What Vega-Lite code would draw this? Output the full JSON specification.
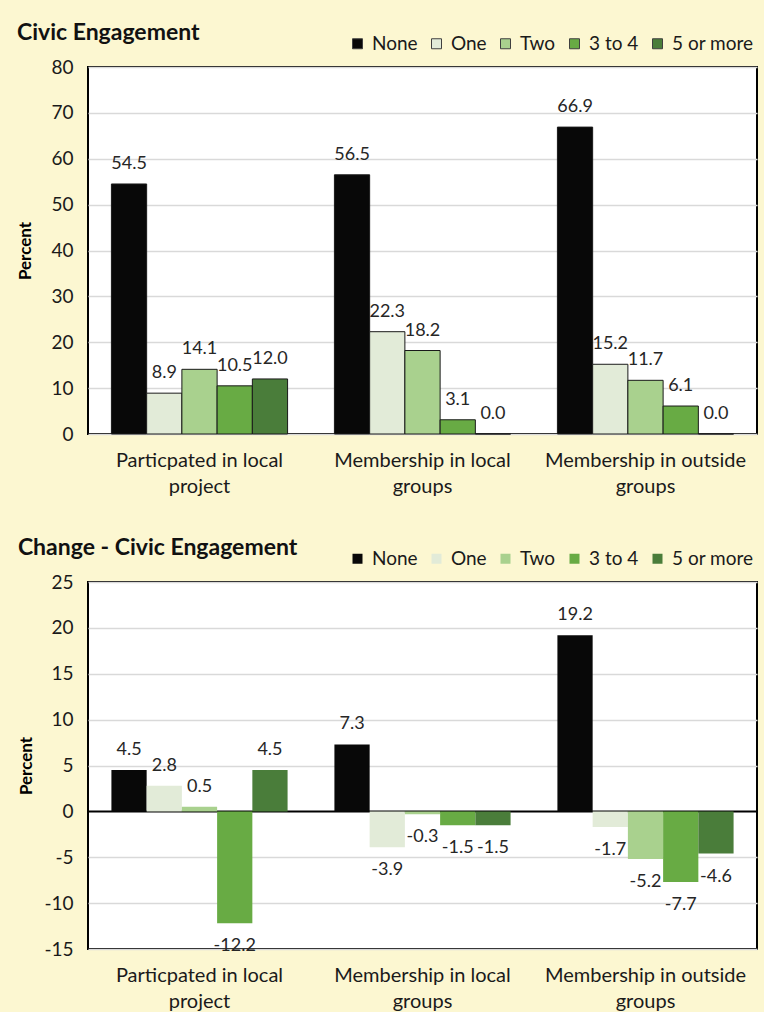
{
  "$schema": "https://vega.github.io/schema/vega-lite/v6.json",
  "background": "#fcf7d1",
  "padding": {"left": 15, "top": 21, "right": 8, "bottom": 0},
  "spacing": 39,
  "config": {
    "font": "Lato",
    "locale": {
      "number": {"decimal": ".", "thousands": ",", "grouping": [3], "currency": ["$", ""], "minus": "-"}
    },
    "view": {"fill": "white", "stroke": "black", "strokeWidth": 2},
    "axis": {
      "labelFont": "Lato",
      "labelFontSize": 19,
      "labelColor": "#1a1a1a",
      "titleFont": "Lato",
      "titleColor": "#000000",
      "gridColor": "#d9d9d9",
      "gridWidth": 1.5,
      "domain": false,
      "ticks": false
    },
    "legend": {
      "orient": "none",
      "direction": "horizontal",
      "legendX": 260,
      "legendY": -33,
      "title": null,
      "symbolType": "square",
      "symbolSize": 100,
      "symbolOpacity": 1,
      "labelFont": "Lato",
      "labelFontSize": 19,
      "labelColor": "#1a1a1a",
      "labelOffset": 5,
      "columnPadding": 9
    },
    "title": {
      "anchor": "start",
      "frame": "bounds",
      "font": "Lato",
      "fontSize": 23,
      "fontWeight": "bold",
      "color": "#111111",
      "offset": 10,
      "dy": 21
    },
    "text": {"font": "Lato", "fontSize": 18, "color": "#262626"}
  },
  "datasets": {
    "levels": [
      {"activity": "Particpated in local project", "count": "None", "pct": 54.5},
      {"activity": "Particpated in local project", "count": "One", "pct": 8.9},
      {"activity": "Particpated in local project", "count": "Two", "pct": 14.1},
      {"activity": "Particpated in local project", "count": "3 to 4", "pct": 10.5},
      {"activity": "Particpated in local project", "count": "5 or more", "pct": 12.0},
      {"activity": "Membership in local groups", "count": "None", "pct": 56.5},
      {"activity": "Membership in local groups", "count": "One", "pct": 22.3},
      {"activity": "Membership in local groups", "count": "Two", "pct": 18.2},
      {"activity": "Membership in local groups", "count": "3 to 4", "pct": 3.1},
      {"activity": "Membership in local groups", "count": "5 or more", "pct": 0.0},
      {"activity": "Membership in outside groups", "count": "None", "pct": 66.9},
      {"activity": "Membership in outside groups", "count": "One", "pct": 15.2},
      {"activity": "Membership in outside groups", "count": "Two", "pct": 11.7},
      {"activity": "Membership in outside groups", "count": "3 to 4", "pct": 6.1},
      {"activity": "Membership in outside groups", "count": "5 or more", "pct": 0.0}
    ],
    "change": [
      {"activity": "Particpated in local project", "count": "None", "chg": 4.5},
      {"activity": "Particpated in local project", "count": "One", "chg": 2.8},
      {"activity": "Particpated in local project", "count": "Two", "chg": 0.5},
      {"activity": "Particpated in local project", "count": "3 to 4", "chg": -12.2},
      {"activity": "Particpated in local project", "count": "5 or more", "chg": 4.5},
      {"activity": "Membership in local groups", "count": "None", "chg": 7.3},
      {"activity": "Membership in local groups", "count": "One", "chg": -3.9},
      {"activity": "Membership in local groups", "count": "Two", "chg": -0.3},
      {"activity": "Membership in local groups", "count": "3 to 4", "chg": -1.5},
      {"activity": "Membership in local groups", "count": "5 or more", "chg": -1.5},
      {"activity": "Membership in outside groups", "count": "None", "chg": 19.2},
      {"activity": "Membership in outside groups", "count": "One", "chg": -1.7},
      {"activity": "Membership in outside groups", "count": "Two", "chg": -5.2},
      {"activity": "Membership in outside groups", "count": "3 to 4", "chg": -7.7},
      {"activity": "Membership in outside groups", "count": "5 or more", "chg": -4.6}
    ]
  },
  "vconcat": [
    {
      "data": {"name": "levels"},
      "width": 669,
      "height": 367,
      "title": {"text": "Civic Engagement"},
      "encoding": {
        "x": {
          "field": "activity",
          "type": "nominal",
          "sort": null,
          "scale": {"paddingInner": 0.21, "paddingOuter": 0.105},
          "axis": {
            "title": null,
            "labelAngle": 0,
            "labelFontSize": 20,
            "labelLimit": 400,
            "labelPadding": 16,
            "labelLineHeight": 26,
            "labelExpr": "[slice(datum.label, 0, lastindexof(datum.label, ' ')), slice(datum.label, lastindexof(datum.label, ' ') + 1)]"
          }
        },
        "xOffset": {
          "field": "count",
          "type": "nominal",
          "sort": ["None", "One", "Two", "3 to 4", "5 or more"],
          "scale": {"paddingInner": 0, "paddingOuter": 0}
        },
        "y": {
          "field": "pct",
          "type": "quantitative",
          "scale": {"domain": [0, 80], "nice": false},
          "axis": {
            "title": "Percent",
            "values": [0, 10, 20, 30, 40, 50, 60, 70, 80],
            "titleFontSize": 17,
            "titleFontWeight": "bold",
            "titlePadding": 16,
            "labelPadding": 15
          }
        }
      },
      "layer": [
        {
          "mark": {"type": "bar", "stroke": "#1a1a1a", "strokeWidth": 1},
          "encoding": {
            "color": {
              "field": "count",
              "type": "nominal",
              "sort": ["None", "One", "Two", "3 to 4", "5 or more"],
              "scale": {
                "domain": ["None", "One", "Two", "3 to 4", "5 or more"],
                "range": ["#080808", "#e2ebd8", "#a9d18e", "#68ab44", "#4a7d3a"]
              },
              "legend": {"symbolStrokeColor": "#404040", "symbolStrokeWidth": 1}
            }
          }
        },
        {
          "mark": {"type": "text", "baseline": "alphabetic", "dy": -15},
          "encoding": {"text": {"field": "pct", "type": "quantitative", "format": ".1f"}}
        }
      ]
    },
    {
      "data": {"name": "change"},
      "width": 669,
      "height": 367,
      "title": {"text": "Change - Civic Engagement"},
      "encoding": {
        "x": {
          "field": "activity",
          "type": "nominal",
          "sort": null,
          "scale": {"paddingInner": 0.21, "paddingOuter": 0.105},
          "axis": {
            "title": null,
            "labelAngle": 0,
            "labelFontSize": 20,
            "labelLimit": 400,
            "labelPadding": 16,
            "labelLineHeight": 26,
            "labelExpr": "[slice(datum.label, 0, lastindexof(datum.label, ' ')), slice(datum.label, lastindexof(datum.label, ' ') + 1)]"
          }
        },
        "xOffset": {
          "field": "count",
          "type": "nominal",
          "sort": ["None", "One", "Two", "3 to 4", "5 or more"],
          "scale": {"paddingInner": 0, "paddingOuter": 0}
        },
        "y": {
          "field": "chg",
          "type": "quantitative",
          "scale": {"domain": [-15, 25], "nice": false},
          "axis": {
            "title": "Percent",
            "values": [-15, -10, -5, 0, 5, 10, 15, 20, 25],
            "titleFontSize": 17,
            "titleFontWeight": "bold",
            "titlePadding": 8,
            "labelPadding": 15,
            "gridColor": {"condition": {"test": "datum.value === 0", "value": "#000000"}, "value": "#d9d9d9"},
            "gridWidth": {"condition": {"test": "datum.value === 0", "value": 2}, "value": 1.5}
          }
        }
      },
      "layer": [
        {
          "mark": {"type": "bar"},
          "encoding": {
            "color": {
              "field": "count",
              "type": "nominal",
              "sort": ["None", "One", "Two", "3 to 4", "5 or more"],
              "scale": {
                "domain": ["None", "One", "Two", "3 to 4", "5 or more"],
                "range": ["#080808", "#e2ebd8", "#a9d18e", "#68ab44", "#4a7d3a"]
              },
              "legend": {"symbolStrokeWidth": 0}
            }
          }
        },
        {
          "transform": [{"filter": "datum.chg >= 0"}],
          "mark": {"type": "text", "baseline": "alphabetic", "dy": -15},
          "encoding": {"text": {"field": "chg", "type": "quantitative", "format": ".1f"}}
        },
        {
          "transform": [{"filter": "datum.chg < 0"}],
          "mark": {"type": "text", "baseline": "top", "dy": 14},
          "encoding": {"text": {"field": "chg", "type": "quantitative", "format": ".1f"}}
        }
      ]
    }
  ],
  "resolve": {"scale": {"color": "independent"}, "legend": {"color": "independent"}}
}
